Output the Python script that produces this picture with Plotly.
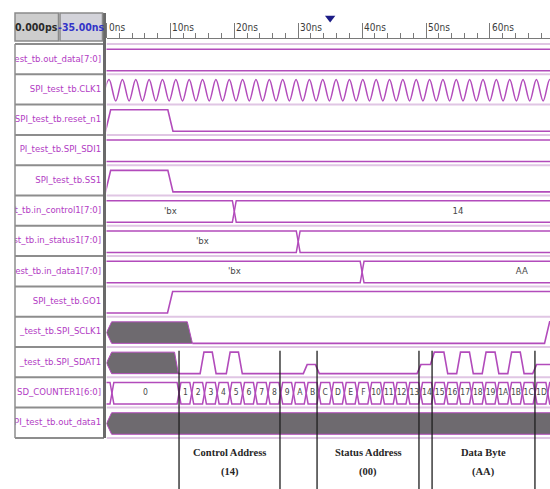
import plotly.graph_objects as go

# ---------------------------------------------------------------- data
ROW_NAMES = [
    "test_tb.out_data[7:0]",
    "SPI_test_tb.CLK1",
    "SPI_test_tb.reset_n1",
    "PI_test_tb.SPI_SDI1",
    "SPI_test_tb.SS1",
    "st_tb.in_control1[7:0]",
    "est_tb.in_status1[7:0]",
    "test_tb.in_data1[7:0]",
    "SPI_test_tb.GO1",
    "_test_tb.SPI_SCLK1",
    "_test_tb.SPI_SDAT1",
    "SD_COUNTER1[6:0]",
    "PI_test_tb.out_data1",
]

RULER_TICKS_NS = [0, 10, 20, 30, 40, 50, 60]
RULER_LABELS = ["0ns", "10ns", "20ns", "30ns", "40ns", "50ns", "60ns"]
CURSOR_NS = 35
CURSOR_READOUTS = ["0.000ps", "-35.00ns"]

# bus signals: edges (ns) and values between them
OUT_DATA_EDGES_NS = [-2.0, 90.0]
OUT_DATA_VALUES = [""]
SDI_EDGES_NS = [-2.0, 90.0]
SDI_VALUES = [""]
IN_CONTROL_EDGES_NS = [0.0, 20.0, 90.0]
IN_CONTROL_VALUES = ["'bx", "14"]
IN_STATUS_EDGES_NS = [0.0, 30.0, 90.0]
IN_STATUS_VALUES = ["'bx", ""]
IN_DATA_EDGES_NS = [0.0, 40.0, 90.0]
IN_DATA_VALUES = ["'bx", "AA"]

COUNTER_EDGES_NS = [-1.0, 0.85, 11.35, 13.34, 15.33, 17.32, 19.31, 21.3, 23.29, 25.28,
                    27.27, 29.26, 31.25, 33.24, 35.23, 37.22, 39.21, 41.2, 43.19, 45.18,
                    47.17, 49.16, 51.15, 53.14, 55.13, 57.12, 59.11, 61.1, 63.09, 65.08,
                    67.07, 69.06, 71.05]
COUNTER_VALUES = ["", "0", "1", "2", "3", "4", "5", "6", "7", "8", "9", "A", "B", "C", "D",
                  "E", "F", "10", "11", "12", "13", "14", "15", "16", "17", "18", "19",
                  "1A", "1B", "1C", "1D", ""]

# clock: times of the crests and troughs (ns)
CLK_PEAKS_NS = [0.4, 2.49, 4.58, 6.67, 8.76, 10.85, 12.94, 15.03, 17.12, 19.21, 21.3,
                23.39, 25.48, 27.57, 29.66, 31.75, 33.84, 35.93, 38.02, 40.11, 42.2,
                44.29, 46.38, 48.47, 50.56, 52.65, 54.74, 56.83, 58.92, 61.01, 63.1,
                65.19, 67.28, 69.37]
CLK_TROUGHS_NS = [-0.65, 1.45, 3.54, 5.63, 7.72, 9.81, 11.9, 13.99, 16.08, 18.17, 20.26,
                  22.35, 24.44, 26.53, 28.62, 30.71, 32.8, 34.89, 36.98, 39.07, 41.16,
                  43.25, 45.34, 47.43, 49.52, 51.61, 53.7, 55.79, 57.88, 59.97, 62.06,
                  64.15, 66.24, 68.33, 70.42]

# single-bit signals: edges (ns) and the state that starts at each edge
RESET_EDGES_NS = [-1.0, 0.25, 10.0]
RESET_STATES = ["0", "1", "0"]
SS_EDGES_NS = [-1.0, 0.25, 10.0]
SS_STATES = ["0", "1", "0"]
GO_EDGES_NS = [-1.0, 9.95]
GO_STATES = ["0", "1"]
SCLK_EDGES_NS = [0.0, 13.05, 68.95]
SCLK_STATES = ["x", "0", "1"]
SDAT_EDGES_NS = [0.0, 10.95, 14.95, 16.85, 19.05, 20.95, 31.1, 33.0, 48.9, 51.0,
                 53.1, 55.1, 57.1, 59.1, 61.1, 63.1, 65.05, 67.0]
SDAT_STATES = ["x", "0", "1", "0", "1", "0", "z", "0", "z", "1", "0", "1", "0", "1",
               "0", "1", "0", "z"]
OUT_DATA1_EDGES_NS = [0.0]
OUT_DATA1_STATES = ["x"]

SECTION_BOUNDS_NS = [11.35, 27.15, 32.95, 48.9, 50.95, 67.05]
SECTION_TITLES = ["Control Address", "Status Address", "Data Byte"]
SECTION_VALUES = ["(14)", "(00)", "(AA)"]

# ---------------------------------------------------------------- geometry / style
W, H = 550, 489
PX_PER_NS = 6.39
T0_PX = 106.5
ROW_TOP_PX = 44.0
ROW_PX = 30.3
X_MAX = (W - T0_PX) / PX_PER_NS
Y_MAX = (H - ROW_TOP_PX) / ROW_PX
Y_MIN = -ROW_TOP_PX / ROW_PX
SIM_END = 90.0

HI, LO, MID, ZL = 0.17, 0.88, 0.525, 0.58
WAVE = "#b24bbb"
XFILL = "#6e6a6f"
LABEL = "#b23cc4"
NARROW = "DejaVu Sans Condensed, Liberation Sans Narrow, Liberation Sans, sans-serif"
SERIF = "Liberation Serif, Times New Roman, serif"


def pxx(p):
    return p / W


def pxy(p):
    return 1 - p / H


fig = go.Figure()

# name column labels (clipped to the column through their own subplot)
fig.add_trace(go.Scatter(
    x=[0.99] * len(ROW_NAMES), y=[i + 0.5 for i in range(len(ROW_NAMES))],
    text=ROW_NAMES, mode="text", textposition="middle left",
    textfont=dict(family=NARROW, size=9.5, color=LABEL),
    xaxis="x2", yaxis="y", cliponaxis=True, hoverinfo="skip", showlegend=False))


def bus(row, edges, values, d=0.3, size=9):
    xs, ys, tx, ty, tt = [], [], [], [], []
    for i, v in enumerate(values):
        a, b = edges[i], edges[i + 1]
        a_draw = a - 2 if (i == 0 and a <= 0) else a
        xs += [a_draw, a_draw + d, b - d, b, b - d, a_draw + d, a_draw, None]
        ys += [row + MID, row + HI, row + HI, row + MID, row + LO, row + LO, row + MID, None]
        if v:
            tx.append((max(a, 0) + b) / 2)
            ty.append(row + MID)
            tt.append(v)
    fig.add_trace(go.Scatter(x=xs, y=ys, mode="lines", line=dict(color=WAVE, width=1.5),
                             hoverinfo="skip", showlegend=False))
    if tt:
        fig.add_trace(go.Scatter(x=tx, y=ty, text=tt, mode="text",
                                 textfont=dict(family=NARROW, size=size, color="#474747"),
                                 cliponaxis=True, hoverinfo="skip", showlegend=False))


def bit_signal(row, edges, states, slew=0.35, nose=0.8):
    lev = {"1": HI, "0": LO, "z": ZL}
    lx, ly, fx, fy = [], [], [], []
    n = len(states)
    for i, s in enumerate(states):
        a = edges[i]
        b = edges[i + 1] if i + 1 < n else SIM_END
        prev = states[i - 1] if i > 0 else None
        nxt = states[i + 1] if i + 1 < n else None
        if s == "x":
            if prev is None:
                pts = [(a, row + MID), (a + nose, row + HI)]
                bl = (a + nose, row + LO)
            else:
                pts = [(a + slew, row + HI)]
                bl = (a + slew, row + LO)
            if nxt is None:
                tr, br = (b, row + HI), (b, row + LO)
            elif nxt == "1":
                tr, br = (b + slew, row + HI), (b - slew, row + LO)
            else:
                tr, br = (b - slew, row + HI), (b + slew, row + LO)
            pts += [tr, br, bl, pts[0]]
            fx += [p[0] for p in pts] + [None]
            fy += [p[1] for p in pts] + [None]
        else:
            L = row + lev[s]
            x0 = a if prev is None else a + slew
            x1 = b if nxt is None else b - slew
            if prev == "x" and lx:
                lx.append(None)
                ly.append(None)
            lx += [x0, x1]
            ly += [L, L]
    if fx:
        fig.add_trace(go.Scatter(x=fx, y=fy, mode="lines", fill="toself", fillcolor=XFILL,
                                 line=dict(color=WAVE, width=1), hoverinfo="skip",
                                 showlegend=False))
    if lx:
        fig.add_trace(go.Scatter(x=lx, y=ly, mode="lines", line=dict(color=WAVE, width=1.6),
                                 hoverinfo="skip", showlegend=False))


# row 0 .. 12
bus(0, OUT_DATA_EDGES_NS, OUT_DATA_VALUES)

clk = sorted([(t, HI) for t in CLK_PEAKS_NS] + [(t, LO) for t in CLK_TROUGHS_NS])
fig.add_trace(go.Scatter(x=[c[0] for c in clk], y=[1 + c[1] for c in clk], mode="lines",
                         line=dict(color=WAVE, width=1.5, shape="spline", smoothing=1.0),
                         hoverinfo="skip", showlegend=False))

bit_signal(2, RESET_EDGES_NS, RESET_STATES, slew=0.4)
bus(3, SDI_EDGES_NS, SDI_VALUES)
bit_signal(4, SS_EDGES_NS, SS_STATES, slew=0.4)
bus(5, IN_CONTROL_EDGES_NS, IN_CONTROL_VALUES, size=9.5)
bus(6, IN_STATUS_EDGES_NS, IN_STATUS_VALUES, size=9.5)
bus(7, IN_DATA_EDGES_NS, IN_DATA_VALUES, size=9.5)
bit_signal(8, GO_EDGES_NS, GO_STATES, slew=0.4)
bit_signal(9, SCLK_EDGES_NS, SCLK_STATES, slew=0.4)
bit_signal(10, SDAT_EDGES_NS, SDAT_STATES, slew=0.3)
bus(11, COUNTER_EDGES_NS, COUNTER_VALUES, d=0.3, size=8.5)
bit_signal(12, OUT_DATA1_EDGES_NS, OUT_DATA1_STATES)

# section divider lines
dx, dy = [], []
for t in SECTION_BOUNDS_NS:
    dx += [t, t, None]
    dy += [10 + 0.12, Y_MAX + 1, None]
fig.add_trace(go.Scatter(x=dx, y=dy, mode="lines", line=dict(color="#1e1e1e", width=1.3),
                         hoverinfo="skip", showlegend=False))

# cursor marker
fig.add_trace(go.Scatter(x=[CURSOR_NS], y=[(18 - ROW_TOP_PX) / ROW_PX], mode="markers",
                         marker=dict(symbol="triangle-down", size=9, color="#1c1c86"),
                         cliponaxis=False, hoverinfo="skip", showlegend=False))

# ---------------------------------------------------------------- decorations
shapes = []
n_rows = len(ROW_NAMES)
for i in range(n_rows + 1):
    shapes.append(dict(type="line", xref="x", yref="y", x0=0, x1=X_MAX + 1, y0=i, y1=i,
                       line=dict(color="#e0c6e4", width=2), layer="below"))
    shapes.append(dict(type="line", xref="paper", yref="y", x0=pxx(15), x1=pxx(104), y0=i, y1=i,
                       line=dict(color="#8d8d8d", width=2)))
shapes.append(dict(type="line", xref="paper", yref="y", x0=pxx(15), x1=pxx(15), y0=0, y1=n_rows,
                   line=dict(color="#8d8d8d", width=1.5)))
shapes.append(dict(type="line", xref="paper", yref="paper", x0=pxx(104.5), x1=pxx(104.5),
                   y0=pxy(13), y1=pxy(ROW_TOP_PX + n_rows * ROW_PX),
                   line=dict(color="#6a6a6a", width=3)))
shapes.append(dict(type="rect", xref="paper", yref="paper", x0=pxx(15), x1=pxx(58.5),
                   y0=pxy(41), y1=pxy(13), fillcolor="#cdcdcd",
                   line=dict(color="#8a8a8a", width=1.5)))
shapes.append(dict(type="rect", xref="paper", yref="paper", x0=pxx(60), x1=pxx(102.5),
                   y0=pxy(41), y1=pxy(13), fillcolor="#d3d3da",
                   line=dict(color="#8a8a8a", width=1.5)))

annotations = []
for t, lab in zip(RULER_TICKS_NS, RULER_LABELS):
    annotations.append(dict(x=t, xref="x", y=pxy(27), yref="paper", text=lab, showarrow=False,
                            xanchor="left", yanchor="middle", xshift=0,
                            font=dict(family=NARROW, size=10, color="#3c3c3c")))
annotations.append(dict(x=pxx(36.7), y=pxy(27), xref="paper", yref="paper",
                        xanchor="center", yanchor="middle",
                        text="<b>%s</b>" % CURSOR_READOUTS[0], showarrow=False,
                        font=dict(family=NARROW, size=10.5, color="#2a2a2a")))
annotations.append(dict(x=pxx(81.3), y=pxy(27), xref="paper", yref="paper",
                        xanchor="center", yanchor="middle",
                        text="<b>%s</b>" % CURSOR_READOUTS[1], showarrow=False,
                        font=dict(family=NARROW, size=10.5, color="#3434c8")))
for k, (title, val) in enumerate(zip(SECTION_TITLES, SECTION_VALUES)):
    xc = (SECTION_BOUNDS_NS[2 * k] + SECTION_BOUNDS_NS[2 * k + 1]) / 2
    annotations.append(dict(x=xc, xref="x", y=(452 - ROW_TOP_PX) / ROW_PX, yref="y",
                            xanchor="center", yanchor="middle",
                            text="<b>%s</b>" % title, showarrow=False,
                            font=dict(family=SERIF, size=10.5, color="#262626")))
    annotations.append(dict(x=xc, xref="x", y=(472 - ROW_TOP_PX) / ROW_PX, yref="y",
                            xanchor="center", yanchor="middle",
                            text="<b>%s</b>" % val, showarrow=False,
                            font=dict(family=SERIF, size=10.5, color="#262626")))

fig.update_layout(
    width=W, height=H, autosize=False,
    margin=dict(l=0, r=0, t=0, b=0, pad=0),
    paper_bgcolor="white", plot_bgcolor="white",
    showlegend=False,
    xaxis=dict(domain=[T0_PX / W, 1], range=[0, X_MAX], side="top", anchor="free",
               position=pxy(38), showline=True, linecolor="#7a7a7a", linewidth=1,
               tickmode="array", tickvals=RULER_TICKS_NS, ticks="outside", ticklen=15,
               tickwidth=1, tickcolor="#7a7a7a", showticklabels=False,
               minor=dict(dtick=2, tick0=0, ticks="outside", ticklen=5, tickwidth=1,
                          tickcolor="#7a7a7a", showgrid=False),
               showgrid=False, zeroline=False, fixedrange=True),
    xaxis2=dict(domain=[pxx(15), pxx(102)], range=[0, 1], anchor="y", visible=False,
                fixedrange=True),
    yaxis=dict(domain=[0, 1], range=[Y_MAX, Y_MIN], anchor="x", visible=False,
               showgrid=False, zeroline=False, fixedrange=True),
    shapes=shapes,
    annotations=annotations,
)

fig.write_html(
    "out.html",
    config={"displayModeBar": False},
    post_script="document.body.style.margin='0';document.body.style.overflow='hidden';",
)
